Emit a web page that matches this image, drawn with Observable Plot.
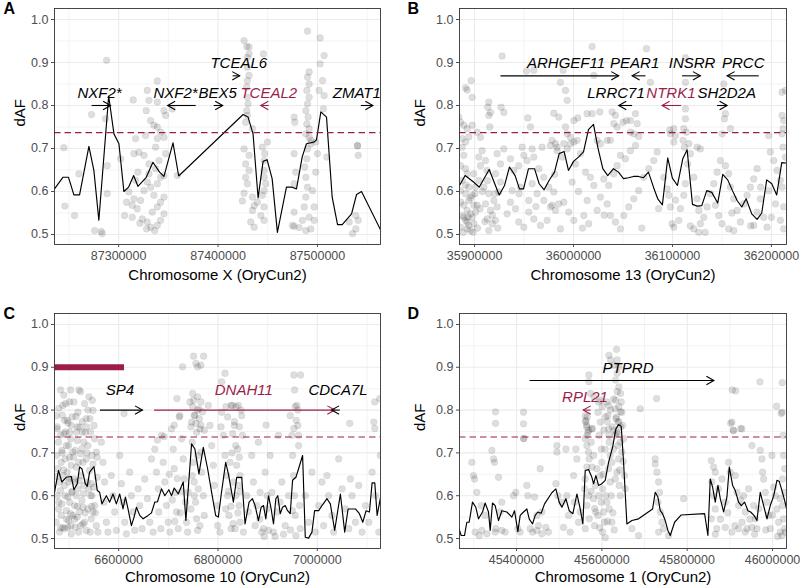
<!DOCTYPE html>
<html><head><meta charset="utf-8">
<script src="https://cdn.jsdelivr.net/npm/d3@7"></script>
<script src="https://cdn.jsdelivr.net/npm/@observablehq/plot@0.6"></script>
<style>
html,body{margin:0;padding:0;background:#fff;}
#wrap{position:relative;width:800px;height:587px;overflow:hidden;background:#fff;}
.cell{position:absolute;}
</style></head><body><div id="wrap"></div>
<script>
const CRIMSON = "#9b1e4a";
const threshold = 0.737;
const yTicks = [0.5, 0.6, 0.7, 0.8, 0.9, 1.0];
const yMinor = [0.55, 0.65, 0.75, 0.85, 0.95];

// ---------- Panel A ----------
const xTicksA = [87300000, 87400000, 87500000];
const xMinorA = [87250000, 87350000, 87450000, 87550000];
const lineA = [[87235500,0.606],[87243900,0.633],[87249600,0.633],[87255000,0.592],[87260700,0.592],[87270100,0.705],[87275100,0.649],[87280100,0.533],[87290000,0.822],[87295300,0.734],[87300300,0.711],[87305300,0.600],[87310000,0.610],[87315100,0.637],[87319400,0.612],[87327800,0.633],[87334500,0.668],[87341200,0.645],[87345600,0.635],[87354700,0.713],[87360400,0.636],[87425200,0.779],[87430200,0.773],[87435200,0.734],[87440300,0.585],[87445300,0.670],[87449300,0.674],[87454400,0.630],[87459700,0.505],[87468800,0.610],[87474500,0.610],[87478900,0.606],[87484600,0.680],[87488900,0.711],[87496700,0.715],[87499000,0.720],[87503400,0.785],[87509100,0.773],[87514800,0.587],[87520200,0.523],[87524900,0.523],[87534300,0.548],[87539300,0.593],[87544300,0.600],[87563800,0.509]];
const pointsA = [[87244900,0.702],[87245900,0.566],[87255600,0.544],[87260000,0.641],[87275800,0.509],[87282500,0.507],[87283500,0.502],[87288500,0.660],[87288500,0.595],[87302000,0.676],[87359000,0.637],
[87308000,0.575],[87313700,0.568],[87306000,0.544],[87313700,0.540],[87318700,0.560],[87322100,0.579],[87325500,0.602],[87328800,0.622],[87332200,0.610],[87335500,0.591],[87338900,0.618],[87342200,0.633],[87345600,0.637],[87337200,0.653],[87330500,0.664],[87325500,0.684],[87320400,0.691],[87315400,0.688],[87323800,0.536],[87328800,0.529],[87332200,0.517],[87338900,0.521],[87342200,0.533],[87345600,0.548],[87333800,0.552],[87338900,0.564],[87342200,0.575],[87345600,0.587],[87336200,0.509],[87321400,0.526],[87328100,0.513],[87315400,0.583],[87310300,0.599],[87317100,0.626],[87319400,0.645],[87330500,0.641],[87340600,0.672],[87347300,0.688],[87337200,0.703],
[87424500,0.578],[87426200,0.596],[87429500,0.618],[87427800,0.633],[87431200,0.649],[87427800,0.664],[87426200,0.699],[87431200,0.684],[87434600,0.556],[87432900,0.529],[87436300,0.517],[87446300,0.533],[87443000,0.544],[87446300,0.564],[87444600,0.591],[87446300,0.602],[87448000,0.618],[87446300,0.633],[87446300,0.649],[87446300,0.672],[87447000,0.688],[87444600,0.703],[87449700,0.715],[87436300,0.567],[87439600,0.575],[87434600,0.587],
[87476500,0.688],[87478200,0.645],[87476500,0.618],[87476500,0.552],[87474800,0.521],[87476500,0.519],[87481500,0.516],[87484900,0.533],[87486600,0.564],[87488300,0.587],[87490000,0.610],[87488300,0.633],[87487300,0.657],[87489300,0.676],[87490000,0.699],[87493300,0.711],[87491600,0.540],[87493300,0.513],[87488300,0.509],[87495000,0.602],[87496700,0.564],[87496700,0.533],[87498300,0.645],[87500000,0.688],[87498300,0.715],[87509400,0.680],[87531900,0.529],[87535300,0.502],[87538600,0.513],[87540300,0.707],[87541000,0.684],[87538600,0.544],[87541000,0.533],
[87287900,0.905],[87272700,0.779],[87286800,0.769],[87314700,0.813],[87317100,0.723],[87338900,0.857],[87328800,0.835],[87330500,0.812],[87338900,0.808],[87345600,0.788],[87347300,0.777],[87354000,0.792],[87327800,0.788],[87332200,0.765],[87335500,0.754],[87338900,0.750],[87342200,0.738],[87345600,0.726],[87327100,0.730],[87338900,0.723],
[87426200,0.951],[87428800,0.937],[87431200,0.936],[87431200,0.920],[87429500,0.912],[87445600,0.920],[87429500,0.889],[87431200,0.870],[87429500,0.858],[87428800,0.843],[87429500,0.819],[87430200,0.804],[87428800,0.788],[87429500,0.777],[87427800,0.761],[87434600,0.746],
[87490000,0.973],[87502700,0.957],[87506700,0.916],[87502700,0.897],[87505100,0.858],[87501700,0.835],[87491600,0.878],[87490000,0.866],[87491600,0.850],[87489300,0.835],[87491600,0.819],[87490000,0.804],[87488300,0.788],[87490600,0.773],[87489300,0.757],[87491600,0.746],[87488300,0.734],[87491600,0.726],[87493300,0.719],[87506700,0.823],[87506000,0.792],[87476500,0.773],[87477200,0.761],[87540300,0.706]];
const genesA = [
 {name:"NXF2*", start:87272800, end:87291900, labelX:87280800, arrowY:0.800, labelY:0.829, hl:false},
 {name:"NXF2*", start:87377500, end:87349300, labelX:87357300, arrowY:0.800, labelY:0.829, hl:false},
 {name:"BEX5", start:87395600, end:87404700, labelX:87399600, arrowY:0.800, labelY:0.829, hl:false},
 {name:"TCEAL2", start:87451000, end:87443000, labelX:87451000, arrowY:0.800, labelY:0.829, hl:true},
 {name:"TCEAL6", start:87414700, end:87421800, labelX:87420800, arrowY:0.869, labelY:0.898, hl:false},
 {name:"ZMAT1", start:87543600, end:87555700, labelX:87539600, arrowY:0.800, labelY:0.829, hl:false}
];

// ---------- Panel B ----------
const xTicksB = [35900000, 36000000, 36100000, 36200000];
const xMinorB = [35950000, 36050000, 36150000];
const lineB = [[35884800,0.614],[35890500,0.637],[35899000,0.622],[35904700,0.610],[35914800,0.651],[35920200,0.619],[35924900,0.592],[35930300,0.614],[35935300,0.657],[35941000,0.637],[35945400,0.606],[35949500,0.606],[35954500,0.653],[35960600,0.653],[35965300,0.618],[35970300,0.604],[35975400,0.626],[35980800,0.645],[35985500,0.688],[35990500,0.693],[35994900,0.649],[36000000,0.670],[36005000,0.680],[36010100,0.692],[36015100,0.744],[36020200,0.756],[36024500,0.703],[36029600,0.653],[36034600,0.637],[36040400,0.653],[36045400,0.645],[36050500,0.630],[36055500,0.632],[36060600,0.635],[36065600,0.635],[36070700,0.632],[36075700,0.645],[36080800,0.610],[36085100,0.583],[36089800,0.569],[36095200,0.678],[36099900,0.631],[36105000,0.614],[36110400,0.676],[36114800,0.697],[36120200,0.570],[36124900,0.566],[36129600,0.567],[36134600,0.602],[36139700,0.598],[36145700,0.573],[36150800,0.640],[36155800,0.627],[36160600,0.602],[36165300,0.579],[36170000,0.564],[36174400,0.583],[36180100,0.548],[36185500,0.535],[36190200,0.550],[36195200,0.627],[36200300,0.618],[36205300,0.592],[36210400,0.667],[36215500,0.666]];
const pointsB = [[35887500,0.703],[35889200,0.684],[35885800,0.660],[35890900,0.653],[35892500,0.641],[35887500,0.626],[35885800,0.602],[35890900,0.595],[35894200,0.579],[35889200,0.568],[35892500,0.556],[35887500,0.544],[35890900,0.533],[35894200,0.521],[35892500,0.513],[35895900,0.509],[35899300,0.525],[35897600,0.540],[35901000,0.552],[35902600,0.568],[35897600,0.591],[35901000,0.610],[35904300,0.626],[35899300,0.641],[35906000,0.660],[35904300,0.680],[35907700,0.695],[35911100,0.672],[35912700,0.649],[35909400,0.610],[35914400,0.595],[35911100,0.571],[35916100,0.556],[35912700,0.536],[35917800,0.525],[35914400,0.509],[35921200,0.533],[35922800,0.564],[35919500,0.579],[35924500,0.599],[35926200,0.622],[35921200,0.641],[35926200,0.664],[35922800,0.688],[35929600,0.699],[35889200,0.540],[35892500,0.529],[35885800,0.517],[35895900,0.548],[35899300,0.568],[35894200,0.610],
[35886000,0.575],[35888500,0.505],[35891000,0.615],[35893500,0.540],[35896000,0.585],[35898500,0.505],[35900500,0.595],[35903000,0.515],[35905500,0.560],[35908000,0.600],[35910500,0.530],[35913000,0.625],[35918000,0.545],[35920500,0.595],[35923500,0.515],
[35936300,0.676],[35939700,0.649],[35944700,0.660],[35949800,0.684],[35953100,0.672],[35959900,0.680],[35964900,0.653],[35968300,0.703],[35976700,0.707],[35983400,0.695],[35988500,0.680],[35993600,0.699],[35996900,0.711],[35970000,0.633],[35975000,0.610],[35980100,0.599],[35985100,0.571],[35981800,0.556],[35978400,0.568],[35973300,0.533],[35966600,0.521],[35959900,0.536],[35954800,0.552],[35949800,0.517],[35944700,0.529],[35941400,0.560],[35936300,0.575],[35932900,0.548],[35938000,0.602],[35946400,0.610],[35954800,0.579],[35958200,0.618],[35963200,0.595],[35970000,0.579],[35976700,0.564],[35986800,0.513],[35990200,0.575],[35995200,0.552],[36000300,0.533],[35998600,0.622],[36002000,0.664],[36007000,0.688],[36012100,0.645],[36017100,0.633],[36020500,0.614],[36013800,0.579],[36010400,0.544],[36015400,0.525],[36023900,0.556],[36027200,0.587],[36030600,0.629],[36035600,0.614],[36040700,0.641],[36044100,0.660],[36047400,0.684],[36052500,0.676],[36057500,0.695],[36062600,0.707],[36034000,0.571],[36037300,0.544],[36042400,0.529],[36047400,0.513],[36050800,0.544],[36055800,0.564],[36060900,0.583],[36065900,0.602],[36071000,0.633],[36076000,0.653],[36081100,0.672],[36084500,0.692],
[36005000,0.600],[36009000,0.515],[36031000,0.545],[36069000,0.515],[36086000,0.560],[36103000,0.580],[36118000,0.520],[36133000,0.505],[36160000,0.550],[36179000,0.520],[36189000,0.610],[36200000,0.540],[35962000,0.565],[35945000,0.595],[35981000,0.640],
[36091200,0.633],[36094600,0.606],[36096300,0.591],[36097900,0.564],[36099600,0.525],[36101300,0.517],[36106300,0.533],[36108000,0.560],[36111400,0.591],[36113100,0.618],[36115400,0.664],[36118100,0.688],[36121500,0.633],[36124900,0.583],[36126600,0.556],[36128200,0.525],[36126600,0.505],[36121500,0.513],[36131600,0.540],[36135000,0.564],[36138300,0.595],[36141700,0.618],[36145100,0.645],[36148400,0.672],[36153500,0.660],[36156800,0.641],[36158500,0.610],[36161900,0.583],[36165300,0.556],[36168600,0.529],[36161900,0.509],[36156800,0.513],[36150100,0.525],[36146700,0.544],[36143400,0.568],[36172000,0.571],[36175400,0.591],[36178700,0.610],[36182100,0.629],[36185500,0.653],[36188800,0.583],[36192200,0.540],[36195600,0.517],[36182100,0.521],[36185500,0.552],[36198900,0.692],[36202300,0.672],[36205700,0.649],[36209000,0.626],[36212400,0.564],[36209000,0.533],[36212400,0.513],[36210700,0.610],[36214100,0.680],[36204000,0.571],[36197300,0.602],
[35927900,0.915],[36018800,0.937],[36073700,0.932],[36113100,0.911],[35952500,0.880],[35959900,0.882],[35989500,0.882],[36020500,0.870],[35986800,0.854],[35991900,0.835],[36077700,0.854],[36113100,0.854],[36151800,0.850],[35896600,0.858],[35890900,0.841],[35892500,0.836],[35897600,0.819],[35914400,0.808],[35913400,0.796],[35916100,0.784],[35914400,0.777],[35915400,0.750],[35884100,0.773],[35885800,0.761],[35889200,0.754],[35892500,0.746],[35897600,0.754],[35894200,0.727],[35887500,0.723],[35890900,0.715],[35902600,0.738],[35906000,0.726],[35926900,0.796],[35929600,0.784],[35953800,0.771],[35956500,0.750],[35980100,0.782],[35985100,0.773],[35993600,0.812],[36004300,0.771],[36000300,0.765],[36013700,0.781],[36018800,0.781],[36026500,0.785],[36003600,0.719],[36039000,0.785],[36042400,0.777],[36040700,0.758],[36044100,0.750],[36050100,0.761],[36053500,0.765],[36057500,0.765],[36062600,0.781],[36064300,0.758],[36057500,0.738],[36060900,0.734],[36065900,0.728],[35991900,0.750],[35993600,0.734],[35996900,0.726],[36000300,0.715],[35990200,0.711],[35978400,0.719],[35981800,0.711],[35983400,0.703],[36034000,0.719],[36037300,0.719],[36097300,0.743],[36097900,0.734],[36101300,0.715],[36113100,0.792],[36113100,0.769],[36111400,0.746],[36114100,0.738],[36110700,0.719],[36112100,0.703],[36116500,0.711],[36101300,0.746],[36103000,0.730],[36153500,0.781],[36152500,0.769],[36158500,0.746],[36150100,0.734],[36124900,0.703],[36128200,0.699],[36197300,0.730],[36210700,0.777],[36212400,0.765],[36211700,0.746],[36210700,0.734],[36211700,0.703],[36210700,0.831],[36214100,0.835],[36023900,0.719],[36027200,0.711],[35948100,0.703],[35958200,0.699]];
const genesB = [
 {name:"ARHGEF11", start:35926200, end:36045700, labelX:35992400, arrowY:0.869, labelY:0.898, hl:false},
 {name:"PEAR1", start:36072700, end:36059200, labelX:36061800, arrowY:0.869, labelY:0.898, hl:false},
 {name:"INSRR", start:36109700, end:36128200, labelX:36119800, arrowY:0.869, labelY:0.898, hl:false},
 {name:"PRCC", start:36187100, end:36155200, labelX:36171500, arrowY:0.869, labelY:0.898, hl:false},
 {name:"LRRC71", start:36059200, end:36045700, labelX:36042900, arrowY:0.800, labelY:0.829, hl:false},
 {name:"NTRK1", start:36108700, end:36089500, labelX:36098400, arrowY:0.800, labelY:0.829, hl:true},
 {name:"SH2D2A", start:36145100, end:36155200, labelX:36154800, arrowY:0.800, labelY:0.829, hl:false}
];

// ---------- Panel C ----------
const xTicksC = [6600000, 6800000, 7000000];
const xMinorC = [6500000, 6700000, 6900000, 7100000];
const lineC = [[6470700,0.608],[6478800,0.659],[6485500,0.632],[6494300,0.643],[6504400,0.645],[6509800,0.614],[6516500,0.628],[6521200,0.667],[6525900,0.663],[6532700,0.628],[6536700,0.622],[6541400,0.655],[6550200,0.668],[6556900,0.612],[6561600,0.608],[6566300,0.581],[6575100,0.600],[6581800,0.585],[6588500,0.604],[6595300,0.581],[6602000,0.604],[6608700,0.569],[6613500,0.597],[6618800,0.569],[6625600,0.530],[6631000,0.550],[6635700,0.573],[6642400,0.554],[6649200,0.546],[6659300,0.554],[6666000,0.560],[6672700,0.585],[6678100,0.586],[6686200,0.616],[6692900,0.600],[6701000,0.614],[6706400,0.600],[6711800,0.618],[6719900,0.604],[6730000,0.632],[6735300,0.542],[6746800,0.721],[6753500,0.709],[6761600,0.651],[6770400,0.713],[6779100,0.663],[6787200,0.608],[6795300,0.554],[6800700,0.550],[6806100,0.600],[6815500,0.678],[6820900,0.651],[6831000,0.585],[6837700,0.643],[6847800,0.643],[6854500,0.534],[6862600,0.585],[6869400,0.593],[6874700,0.577],[6881500,0.542],[6886900,0.573],[6891600,0.577],[6896300,0.546],[6901700,0.600],[6907100,0.569],[6911800,0.534],[6916500,0.593],[6920500,0.600],[6925300,0.558],[6930000,0.573],[6935400,0.577],[6940100,0.565],[6945500,0.558],[6950200,0.636],[6956900,0.643],[6962300,0.663],[6970400,0.694],[6975800,0.503],[6982500,0.501],[6989200,0.515],[6994600,0.565],[7002700,0.565],[7009400,0.577],[7019500,0.593],[7026300,0.581],[7035000,0.519],[7046500,0.604],[7055200,0.515],[7062000,0.569],[7070000,0.569],[7076800,0.569],[7084800,0.558],[7091600,0.538],[7098300,0.565],[7105000,0.562],[7110400,0.630],[7115800,0.630],[7120500,0.554],[7129300,0.608]];
const pointsC = [[6474100,0.787],[6476100,0.756],[6478800,0.725],[6474700,0.694],[6477400,0.663],[6480800,0.632],[6476100,0.600],[6478800,0.569],[6474100,0.538],[6480800,0.515],[6487500,0.811],[6490900,0.776],[6489600,0.745],[6494300,0.717],[6492200,0.686],[6496300,0.655],[6490900,0.624],[6497600,0.597],[6494300,0.565],[6499000,0.542],[6490900,0.523],[6501000,0.819],[6504400,0.764],[6503000,0.733],[6507700,0.702],[6504400,0.671],[6509800,0.639],[6505700,0.608],[6511100,0.577],[6507700,0.554],[6512500,0.526],[6504400,0.511],[6517800,0.795],[6521200,0.760],[6516500,0.729],[6523200,0.698],[6519200,0.678],[6524600,0.647],[6517800,0.616],[6525900,0.589],[6521200,0.562],[6527900,0.534],[6519200,0.515],[6531300,0.815],[6534700,0.780],[6532700,0.748],[6538000,0.717],[6534700,0.686],[6541400,0.659],[6536700,0.632],[6543400,0.600],[6538000,0.569],[6544800,0.546],[6534700,0.519],[6548100,0.799],[6550200,0.764],[6551500,0.733],[6554900,0.702],[6548100,0.674],[6556900,0.643],[6551500,0.577],[6554900,0.530],[6558200,0.515],
[6482800,0.741],[6485500,0.706],[6484200,0.678],[6487500,0.647],[6482800,0.612],[6485500,0.581],[6484200,0.554],[6487500,0.526],[6501000,0.748],[6499000,0.717],[6501000,0.690],[6499000,0.632],[6501000,0.585],[6503000,0.558],[6497600,0.526],[6514500,0.748],[6512500,0.706],[6514500,0.667],[6512500,0.632],[6514500,0.600],[6516500,0.550],[6529900,0.725],[6527900,0.678],[6529900,0.624],[6527900,0.573],[6531300,0.538],[6546100,0.694],[6544800,0.628],[6546100,0.600],[6548100,0.562],
[6475500,0.645],[6479500,0.585],[6483000,0.525],[6486000,0.700],[6489000,0.660],[6492000,0.600],[6495000,0.545],[6498000,0.770],[6500500,0.640],[6503500,0.530],[6506000,0.610],[6509000,0.690],[6511000,0.545],[6514000,0.785],[6517000,0.575],[6520000,0.635],[6523000,0.530],[6526000,0.710],[6529000,0.605],[6532500,0.560],[6536000,0.700],[6539500,0.615],[6542500,0.515],[6545500,0.575],[6549500,0.620],[6553000,0.560],[6556500,0.690],
[6565000,0.725],[6568300,0.678],[6571700,0.632],[6570400,0.585],[6575100,0.538],[6578400,0.515],[6585200,0.647],[6588500,0.600],[6591900,0.562],[6595300,0.519],[6602000,0.694],[6605400,0.628],[6608700,0.585],[6612100,0.538],[6615500,0.511],[6622200,0.655],[6625600,0.600],[6629000,0.562],[6632300,0.519],[6639100,0.616],[6642400,0.577],[6647100,0.523],[6652500,0.639],[6657900,0.593],[6662600,0.538],[6666000,0.686],[6669400,0.515],
[6672700,0.709],[6676100,0.655],[6679500,0.616],[6680800,0.562],[6684900,0.523],[6686200,0.741],[6689600,0.678],[6692900,0.632],[6696300,0.577],[6699700,0.538],[6703000,0.515],[6706400,0.756],[6709800,0.709],[6711800,0.663],[6714500,0.608],[6716500,0.562],[6719900,0.523],[6723200,0.787],[6726600,0.733],[6730000,0.686],[6732000,0.639],[6734700,0.585],[6736700,0.538],[6738700,0.515],[6743400,0.819],[6746800,0.772],[6748100,0.725],[6750200,0.678],[6752200,0.632],[6754900,0.585],[6756900,0.546],[6758900,0.519],[6761600,0.803],[6763600,0.756],[6765700,0.702],[6767000,0.655],[6770400,0.600],[6772400,0.554],[6753500,0.787],[6756900,0.748],[6752200,0.600],[6760300,0.616],[6745400,0.569],[6763600,0.530],[6748100,0.647],[6758900,0.694],[6740100,0.608],
[6702000,0.650],[6708000,0.590],[6713000,0.540],[6718000,0.640],[6724000,0.560],[6727000,0.610],
[6780500,0.811],[6783800,0.764],[6787200,0.717],[6790600,0.671],[6792600,0.624],[6797300,0.577],[6799300,0.530],[6804000,0.515],[6807400,0.795],[6810800,0.741],[6814100,0.694],[6817500,0.647],[6819500,0.600],[6822200,0.554],[6826300,0.523],[6829000,0.811],[6833000,0.764],[6835700,0.717],[6837700,0.671],[6841100,0.624],[6842400,0.577],[6844400,0.538],[6847800,0.787],[6849200,0.741],[6851200,0.515],[6824200,0.678],[6831000,0.632],[6839700,0.709],[6815500,0.569],[6834300,0.523],[6844400,0.647],
[6821000,0.610],[6826000,0.575],[6830500,0.535],[6836000,0.600],[6840000,0.560],[6845000,0.610],[6828000,0.700],[6843000,0.690],
[6857900,0.600],[6861300,0.562],[6868000,0.694],[6871400,0.632],[6874700,0.530],[6881500,0.725],[6884800,0.608],[6888200,0.515],[6894900,0.655],[6898300,0.569],[6905000,0.694],[6908400,0.608],[6911800,0.515],[6918500,0.562],[6921900,0.741],[6928600,0.632],[6935400,0.530],[6942100,0.600],[6891600,0.523],[6901700,0.519],[6878100,0.577],
[6884000,0.545],[6893000,0.505],[6899000,0.600],[6915000,0.505],[6925000,0.585],[6932000,0.510],[6946000,0.520],[6950000,0.565],
[6945500,0.787],[6948800,0.741],[6950200,0.694],[6952200,0.647],[6954200,0.600],[6955500,0.554],[6956900,0.507],[6958900,0.811],[6960900,0.764],[6962300,0.717],[6964300,0.577],[6965600,0.523],
[6975800,0.600],[6982500,0.538],[6989200,0.655],[6995900,0.515],[7002700,0.577],[7009400,0.632],[7012800,0.530],[7019500,0.647],[7022900,0.600],[7029600,0.554],[7033000,0.515],[7043100,0.686],[7049800,0.616],[7056600,0.569],[7063300,0.523],[7066700,0.639],[7070000,0.600],[7076800,0.538],[7083500,0.624],[7090200,0.515],[7097000,0.577],[7103700,0.538],[7110400,0.655],[7113800,0.772],[7117200,0.600],[7123900,0.515],[7127000,0.694],
[6482800,0.847],[6489500,0.835],[6503000,0.847],[6519900,0.847],[6523200,0.843],[6509700,0.819],[6492900,0.815],[6479400,0.804],[6486200,0.788],[6496300,0.776],[6506400,0.784],[6516500,0.761],[6526600,0.773],[6540100,0.831],[6546800,0.823],[6538000,0.800],[6542100,0.780],[6535300,0.761],[6543400,0.749],[6526600,0.749],[6492900,0.749],[6476100,0.761],
[6728600,0.901],[6758900,0.901],[6750800,0.926],[6771000,0.926],[6755500,0.909],[6765600,0.905],[6717200,0.827],[6748800,0.839],[6750800,0.823],[6758900,0.831],[6765600,0.819],[6748800,0.808],[6758900,0.800],[6769000,0.796],[6752200,0.788],[6762300,0.780],[6755500,0.769],[6765600,0.765],[6745400,0.761],[6772400,0.753],[6711800,0.765],[6721900,0.784],
[6814100,0.886],[6807400,0.866],[6816200,0.808],[6826300,0.811],[6836300,0.808],[6841100,0.811],[6846400,0.800],[6819500,0.784],[6833000,0.773],[6843100,0.761],[6829600,0.745],[6806000,0.761],[6610800,0.792],[6897000,0.765],
[6952800,0.882],[6966300,0.882],[6954200,0.847],[6955500,0.808],[6960900,0.800],[6957600,0.776],[6952800,0.757],[6962300,0.741],[7065300,0.769],[7115800,0.819],[7125900,0.827],[7115800,0.757],[6691600,0.738],[6678100,0.730]];
const genesC = [
 {name:"SP4", start:6562200, end:6647900, labelX:6602400, arrowY:0.800, labelY:0.847, hl:false},
 {name:"DNAH11", start:6671300, end:7035300, labelX:6851900, arrowY:0.800, labelY:0.847, hl:true},
 {name:"CDCA7L", start:7045400, end:7028700, labelX:7041800, arrowY:0.800, labelY:0.847, hl:false}
];
const regionC = [{start:6470700, end:6610700, y:0.900}];

// ---------- Panel D ----------
const xTicksD = [45400000, 45600000, 45800000, 46000000];
const xMinorD = [45300000, 45500000, 45700000, 45900000];
const lineD = [[45264000,0.526],[45270300,0.507],[45278100,0.507],[45283500,0.538],[45289000,0.538],[45296800,0.585],[45304600,0.573],[45310900,0.546],[45320300,0.562],[45326500,0.583],[45334300,0.562],[45338300,0.519],[45343700,0.583],[45350000,0.577],[45357800,0.542],[45365600,0.565],[45377300,0.562],[45389100,0.550],[45395300,0.565],[45403100,0.516],[45408600,0.554],[45416400,0.562],[45424200,0.569],[45429700,0.546],[45437500,0.534],[45443800,0.554],[45450000,0.562],[45457800,0.559],[45465700,0.581],[45482800,0.607],[45492200,0.616],[45500000,0.585],[45506300,0.573],[45515700,0.593],[45523500,0.565],[45532100,0.558],[45541500,0.604],[45549300,0.569],[45555500,0.534],[45561000,0.659],[45568800,0.661],[45576600,0.643],[45580500,0.628],[45586000,0.647],[45592300,0.624],[45600100,0.628],[45607900,0.636],[45615700,0.678],[45625100,0.713],[45632900,0.756],[45639200,0.766],[45645400,0.762],[45650900,0.678],[45658700,0.534],[45670400,0.542],[45686100,0.546],[45718900,0.569],[45725100,0.608],[45731400,0.597],[45736900,0.565],[45742300,0.558],[45748600,0.542],[45754800,0.519],[45760300,0.507],[45770500,0.538],[45786100,0.555],[45840800,0.558],[45848600,0.507],[45854100,0.639],[45859600,0.620],[45865800,0.585],[45872100,0.624],[45877600,0.593],[45885400,0.562],[45893200,0.597],[45898700,0.667],[45906500,0.624],[45912700,0.612],[45920500,0.585],[45926800,0.577],[45934600,0.585],[45942400,0.565],[45948700,0.562],[45956500,0.554],[45963500,0.542],[45971300,0.608],[45979200,0.577],[45987000,0.546],[45994800,0.577],[46002600,0.599],[46010400,0.636],[46015900,0.633],[46022200,0.612],[46028400,0.589],[46033900,0.565]];
const pointsD = [[45299200,0.647],[45301500,0.639],[45295300,0.678],[45307000,0.608],[45303100,0.515],[45312500,0.507],[45317100,0.577],[45326500,0.554],[45342200,0.706],[45346100,0.686],[45348400,0.678],[45351500,0.523],[45357800,0.643],[45361700,0.562],[45365600,0.585],[45373400,0.515],[45393000,0.600],[45398400,0.608],[45403100,0.523],[45408600,0.515],[45416400,0.795],[45416400,0.768],[45416400,0.733],[45424200,0.624],[45426600,0.600],[45432000,0.523],[45437500,0.515],[45442200,0.597],[45447700,0.554],[45451600,0.530],[45455500,0.663],[45459400,0.562],[45468800,0.526],[45475000,0.515],[45494600,0.717],[45494600,0.702],[45492200,0.628],[45496900,0.600],[45506300,0.585],[45510200,0.526],[45515700,0.709],[45518000,0.600],[45521900,0.554],[45525800,0.515],[45533700,0.647],[45536000,0.585],[45539100,0.709],[45541500,0.686],[45545400,0.538],[45549300,0.562],[45318700,0.519],[45330400,0.511],[45350000,0.515],[45365600,0.519],[45447700,0.519],[45459400,0.511],
[45561000,0.787],[45562600,0.776],[45564900,0.760],[45567300,0.748],[45561000,0.733],[45564900,0.717],[45568800,0.702],[45570400,0.686],[45564900,0.667],[45561000,0.639],[45559400,0.616],[45568800,0.600],[45564900,0.577],[45570400,0.546],[45561000,0.523],[45576600,0.756],[45575100,0.725],[45580500,0.694],[45576600,0.667],[45584500,0.624],[45580500,0.593],[45586000,0.562],[45582900,0.530],[45592300,0.819],[45590700,0.795],[45596200,0.772],[45593800,0.741],[45598500,0.709],[45600100,0.678],[45596200,0.647],[45601700,0.616],[45598500,0.585],[45604000,0.562],[45606300,0.538],[45601700,0.515],[45607900,0.502],[45611800,0.819],[45614200,0.787],[45615700,0.756],[45617300,0.725],[45619600,0.694],[45615700,0.663],[45619600,0.632],[45622000,0.600],[45617300,0.569],[45623500,0.538],[45627400,0.826],[45631400,0.803],[45632900,0.780],[45635300,0.748],[45637600,0.717],[45639200,0.686],[45635300,0.655],[45640700,0.624],[45643100,0.600],[45645400,0.819],[45647000,0.795],[45648600,0.764],[45650900,0.733],[45647000,0.702],[45653200,0.647],[45654800,0.616],[45631400,0.741],[45627400,0.709],[45637600,0.772],[45643100,0.725],[45623500,0.678],[45631400,0.639],[45611800,0.585],[45607900,0.709],[45592300,0.600],[45590700,0.554],[45588400,0.663],
[45603000,0.650],[45609000,0.600],[45613000,0.540],[45626000,0.560],[45629000,0.520],[45642000,0.660],[45650000,0.680],[45575000,0.610],[45583000,0.570],[45595000,0.525],
[45690000,0.803],[45670400,0.523],[45686100,0.507],[45725100,0.686],[45725100,0.674],[45729100,0.655],[45733000,0.632],[45735300,0.608],[45731400,0.585],[45736900,0.562],[45740800,0.538],[45744700,0.523],[45733000,0.515],[45756400,0.507],[45791600,0.593],
[45856500,0.682],[45861900,0.667],[45865800,0.655],[45858000,0.632],[45861900,0.600],[45865800,0.569],[45856500,0.546],[45869700,0.523],[45873600,0.616],[45881500,0.639],[45889300,0.585],[45897100,0.678],[45901000,0.655],[45904900,0.772],[45908800,0.752],[45912700,0.647],[45916600,0.608],[45920500,0.577],[45928400,0.756],[45928400,0.538],[45932300,0.600],[45936200,0.562],[45940100,0.523],[45944000,0.616],[45951800,0.717],[45955700,0.577],[45959600,0.546],[45963500,0.523],[45971300,0.706],[45975300,0.686],[45976800,0.655],[45979200,0.639],[45983100,0.608],[45987000,0.585],[45990900,0.554],[45994800,0.523],[45998700,0.694],[46002600,0.620],[46006500,0.600],[46010400,0.569],[46014300,0.538],[46018200,0.515],[46022200,0.795],[46026100,0.694],[46028400,0.663],[46023700,0.639],[46028400,0.608],[46023700,0.577],[46026100,0.546],[46028400,0.523],[46022200,0.507],[46018200,0.593],[45889300,0.526],[45904900,0.515],[45920500,0.523],[45936200,0.515],[45951800,0.526],
[45866000,0.510],[45878000,0.545],[45895000,0.560],[45912000,0.530],[45925000,0.590],[45947000,0.545],[45958000,0.510],[45968000,0.570],[45984000,0.520],[46000000,0.555],[46012000,0.505],[46030000,0.515],
[45350800,0.796],[45350800,0.769],[45569600,0.882],[45569600,0.866],[45616500,0.928],[45620400,0.917],[45628200,0.905],[45634500,0.942],[45636000,0.917],[45639900,0.901],[45636000,0.886],[45632100,0.870],[45639900,0.854],[45636000,0.843],[45643900,0.839],[45632100,0.823],[45639900,0.808],[45643900,0.796],[45634500,0.784],[45639900,0.773],[45643900,0.761],[45628200,0.753],[45636000,0.745],[45597000,0.823],[45600900,0.808],[45616500,0.811],[45620400,0.800],[45608700,0.784],[45612600,0.773],[45624300,0.761],[45604800,0.753],[45616500,0.741],[45565700,0.784],[45561800,0.773],[45564100,0.765],[45569600,0.753],[45577400,0.757],[45565700,0.741],[45573500,0.839],[45581300,0.831],[45728300,0.827],[45905700,0.847],[45913500,0.845],[45901800,0.769],[45908000,0.753],[45925300,0.757],[45970600,0.866],[46023000,0.864],[46009700,0.809],[46020600,0.792],[46025300,0.741],[45417200,0.734]];
const genesD = [
 {name:"PTPRD", start:45430500, end:45862600, labelX:45661400, arrowY:0.869, labelY:0.899, hl:false},
 {name:"RPL21", start:45573500, end:45556400, labelX:45560600, arrowY:0.800, labelY:0.829, hl:true}
];

// ---------- drawing ----------
const chevronRight = {draw(ctx) { ctx.moveTo(-7.5, -4.2); ctx.lineTo(0, 0); ctx.lineTo(-7.5, 4.2); }};
const chevronLeft = {draw(ctx) { ctx.moveTo(7.5, -4.2); ctx.lineTo(0, 0); ctx.lineTo(7.5, 4.2); }};
const geneColor = d => d.hl ? CRIMSON : "#000";

function panel(cfg) {
  const marks = [
    Plot.gridY(yMinor, {stroke: "#ebebeb", strokeOpacity: 1, strokeWidth: 0.6}),
    Plot.gridX(cfg.xMinor, {stroke: "#ebebeb", strokeOpacity: 1, strokeWidth: 0.6}),
    Plot.gridY(yTicks, {stroke: "#ebebeb", strokeOpacity: 1, strokeWidth: 1.1}),
    Plot.gridX(cfg.xTicks, {stroke: "#ebebeb", strokeOpacity: 1, strokeWidth: 1.1}),
    Plot.dot(cfg.points, {x: d => d[0], y: d => d[1], r: 3.4, fill: "#000", fillOpacity: 0.13, stroke: "#000", strokeOpacity: 0.09, strokeWidth: 0.6, clip: true}),
    Plot.line(cfg.line, {x: d => d[0], y: d => d[1], stroke: "#000", strokeWidth: 1.15, clip: true}),
    Plot.ruleY([threshold], {stroke: CRIMSON, strokeWidth: 1.1, strokeDasharray: "6.5,4"})
  ];
  if (cfg.region) marks.push(Plot.link(cfg.region, {x1: "start", x2: "end", y1: "y", y2: "y", stroke: CRIMSON, strokeWidth: 6, strokeLinecap: "butt", clip: true}));
  marks.push(
    Plot.link(cfg.genes, {x1: "start", x2: "end", y1: "arrowY", y2: "arrowY", stroke: geneColor, strokeWidth: 1.1}),
    Plot.dot(cfg.genes.filter(g => g.end > g.start), {x: "end", y: "arrowY", symbol: chevronRight, fill: "none", stroke: geneColor, strokeWidth: 1.1}),
    Plot.dot(cfg.genes.filter(g => g.end < g.start), {x: "end", y: "arrowY", symbol: chevronLeft, fill: "none", stroke: geneColor, strokeWidth: 1.1}),
    Plot.text(cfg.genes, {x: "labelX", y: "labelY", text: "name", fontStyle: "italic", fontSize: 15, fill: geneColor}),
    Plot.frame({stroke: "#333", strokeWidth: 0.9}),
    Plot.axisX(cfg.xTicks, {tickSize: 3, tickPadding: 4, tickFormat: d3.format("d"), fontSize: 12.5, color: "#4d4d4d", label: null}),
    Plot.axisY(yTicks, {tickSize: 3, tickPadding: 3, tickFormat: d3.format(".1f"), fontSize: 12.5, color: "#4d4d4d", label: null}),
    Plot.text([cfg.xTitle], {text: d => d, frameAnchor: "bottom", lineAnchor: "middle", dy: cfg.titleDy, fontSize: 15, fill: "#000"}),
    Plot.text(["dAF"], {text: d => d, frameAnchor: "left", lineAnchor: "middle", dx: 20 - cfg.ml, rotate: -90, fontSize: 15, fill: "#000"}),
    Plot.text([cfg.letter], {text: d => d, frameAnchor: "top-left", lineAnchor: "middle", dx: cfg.letterX - cfg.ml, textAnchor: "start", fontWeight: "bold", fontSize: 16, fill: "#000"})
  );
  return Plot.plot({
    width: 400, height: cfg.h,
    marginLeft: cfg.ml, marginRight: cfg.mr, marginTop: cfg.mt, marginBottom: cfg.mb,
    x: {domain: cfg.xDomain, label: null},
    y: {domain: [0.4767, 1.0256], label: null},
    color: {type: "identity"},
    style: {fontFamily: "'Liberation Sans', Arial, Helvetica, sans-serif", fontSize: "12.5px", background: "white", overflow: "visible"},
    marks
  });
}

const panels = [
  {left: 0, top: 0, h: 293, ml: 54, mr: 20, mt: 8, mb: 49, titleDy: 31, letter: "A", letterX: 3,
   xDomain: [87235500, 87563400], xTicks: xTicksA, xMinor: xMinorA, points: pointsA, line: lineA, genes: genesA, xTitle: "Chromosome X (OryCun2)"},
  {left: 400, top: 0, h: 293, ml: 59, mr: 14, mt: 8, mb: 49, titleDy: 31, letter: "B", letterX: 7,
   xDomain: [35884800, 36215200], xTicks: xTicksB, xMinor: xMinorB, points: pointsB, line: lineB, genes: genesB, xTitle: "Chromosome 13 (OryCun2)"},
  {left: 0, top: 293, h: 294, ml: 54, mr: 20, mt: 20, mb: 39, titleDy: 29, letter: "C", letterX: 3,
   xDomain: [6470700, 7127300], xTicks: xTicksC, xMinor: xMinorC, points: pointsC, line: lineC, genes: genesC, region: regionC, xTitle: "Chromosome 10 (OryCun2)"},
  {left: 400, top: 293, h: 294, ml: 59, mr: 14, mt: 20, mb: 39, titleDy: 29, letter: "D", letterX: 7,
   xDomain: [45266350, 46032800], xTicks: xTicksD, xMinor: xMinorD, points: pointsD, line: lineD, genes: genesD, xTitle: "Chromosome 1 (OryCun2)"}
];

const wrap = document.getElementById("wrap");
for (const p of panels) {
  const div = document.createElement("div");
  div.className = "cell";
  div.style.left = p.left + "px";
  div.style.top = p.top + "px";
  div.appendChild(panel(p));
  wrap.appendChild(div);
}
</script></body></html>
